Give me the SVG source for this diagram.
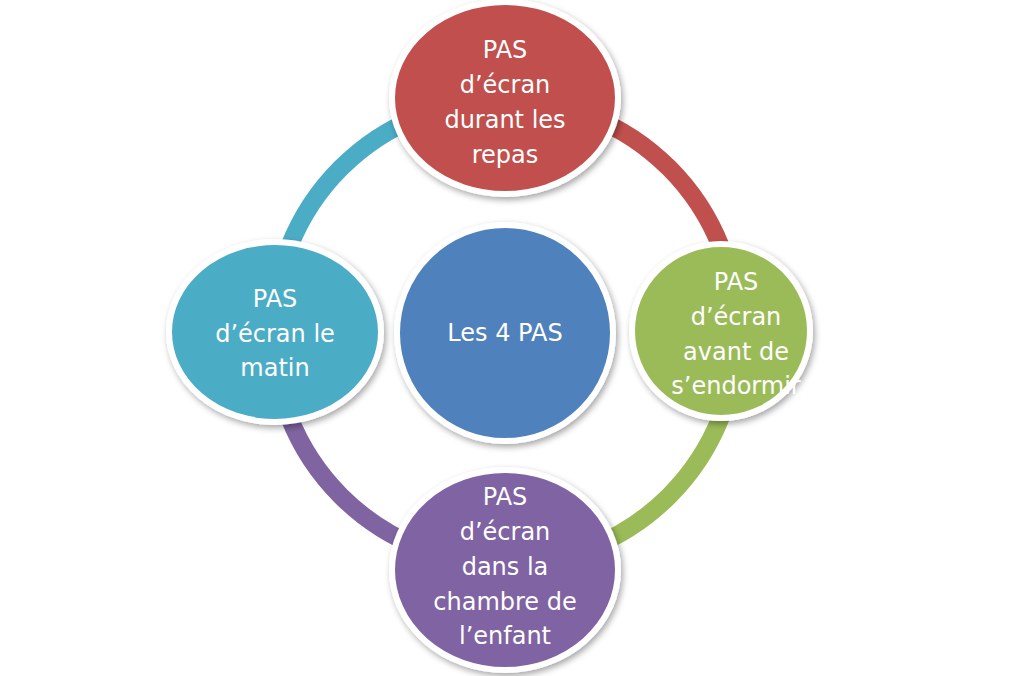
<svg xmlns="http://www.w3.org/2000/svg" width="1013" height="676" viewBox="0 0 1013 676">
<defs>
<filter id="sh" x="-20%" y="-20%" width="140%" height="140%"><feDropShadow dx="2" dy="3" stdDeviation="3" flood-color="#000" flood-opacity="0.35"/></filter>
<style>
.arc{fill:none;stroke-width:18}
.n{stroke:#fff;stroke-width:6;filter:url(#sh)}
text{font-family:"DejaVu Sans",sans-serif;font-size:24px;fill:#fff;text-anchor:middle}
</style>
</defs>
<rect width="1013" height="676" fill="#fff"/>
<g id="connectors">
<path class="arc" stroke="#C0504D" d="M505 100 A232 232 0 0 1 737 332"/>
<path class="arc" stroke="#9BBB59" d="M737 332 A232 232 0 0 1 505 564"/>
<path class="arc" stroke="#8064A2" d="M505 564 A232 232 0 0 1 273 332"/>
<path class="arc" stroke="#4BACC6" d="M273 332 A232 232 0 0 1 505 100"/>
</g>
<g id="center"><circle class="n" cx="505" cy="333" r="108" fill="#4F81BD"/><text x="505" y="341">Les 4 PAS</text></g>
<g id="top"><ellipse class="n" cx="505" cy="98" rx="113" ry="96" fill="#C0504D"/>
<text x="505" y="58">PAS</text><text x="505" y="93">d’écran</text><text x="505" y="128">durant les</text><text x="505" y="163">repas</text></g>
<g id="right"><ellipse class="n" cx="721" cy="331" rx="89" ry="87" fill="#9BBB59"/>
<text x="736" y="290">PAS</text><text x="736" y="325">d’écran</text><text x="736" y="360">avant de</text><text x="736" y="394">s’endormir</text></g>
<g id="bottom"><ellipse class="n" cx="505" cy="570" rx="113" ry="100" fill="#8064A2"/>
<text x="505" y="505">PAS</text><text x="505" y="540">d’écran</text><text x="505" y="575">dans la</text><text x="505" y="610">chambre de</text><text x="505" y="644">l’enfant</text></g>
<g id="left"><ellipse class="n" cx="275" cy="332" rx="106" ry="90" fill="#4BACC6"/>
<text x="275" y="307">PAS</text><text x="275" y="342">d’écran le</text><text x="275" y="376">matin</text></g>
</svg>
